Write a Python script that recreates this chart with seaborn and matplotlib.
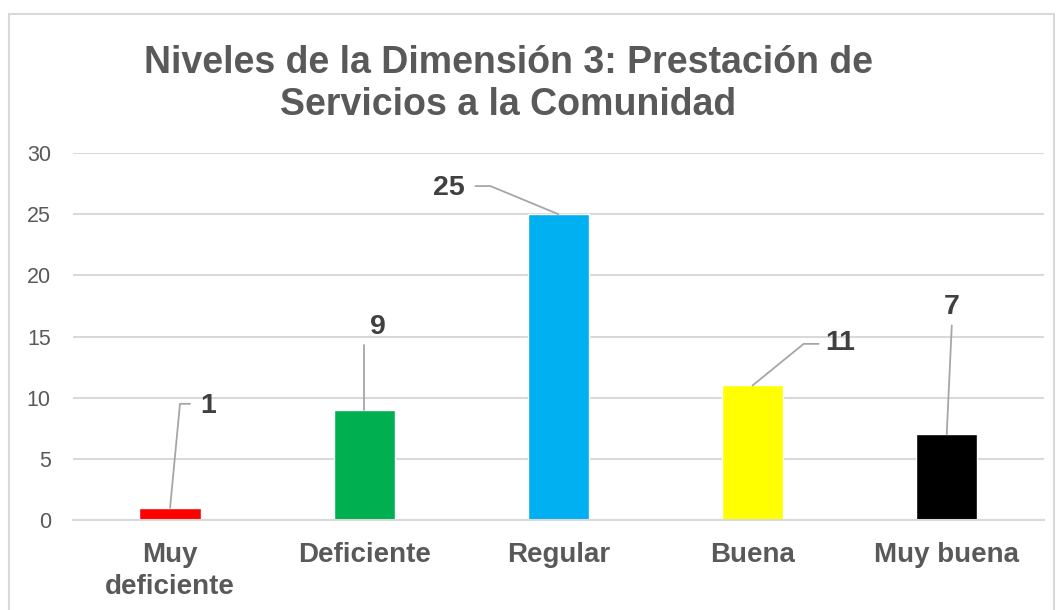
import matplotlib
matplotlib.use("Agg")
import matplotlib.pyplot as plt
from matplotlib.patches import Rectangle
import seaborn as sns

# Data
categorias = ["Muy\ndeficiente", "Deficiente", "Regular", "Buena", "Muy buena"]
valores = [1, 9, 25, 11, 7]
colores = ["#FF0000", "#00B050", "#00B0F0", "#FFFF00", "#000000"]

# Label placement (offsets from bar top, in data units) and leader elbows
label_dx = [0.196, 0.072, -0.566, 0.453, 0.026]
label_y = [9.3, 15.75, 27.15, 14.45, 17.45]
leaders = [
    [(0.051, 9.5), (0.103, 9.5)],
    [(0.0, 14.3)],
    [(-0.35, 27.3), (-0.427, 27.3)],
    [(0.263, 14.4), (0.34, 14.4)],
    [(0.026, 15.9)],
]

sns.set_theme(style="white")
plt.rcParams["font.family"] = ["Liberation Sans", "DejaVu Sans"]

fig = plt.figure(figsize=(10.61, 6.10), dpi=100)
ax = fig.add_axes([0.0688, 0.1475, 0.915, 0.6016])

sns.barplot(x=categorias, y=valores, hue=categorias, palette=colores,
            legend=False, width=0.315, saturation=1, ax=ax)

ax.set_ylim(0, 30)
ax.set_xlim(-0.5, len(categorias) - 0.5)
ax.set_yticks(range(0, 31, 5))
ax.yaxis.grid(True, color="#d9d9d9", linewidth=1.5)
ax.set_axisbelow(True)
for s in ["top", "right", "left"]:
    ax.spines[s].set_visible(False)
ax.spines["bottom"].set_color("#d9d9d9")
ax.spines["bottom"].set_linewidth(1.5)
ax.set_xlabel("")
ax.set_ylabel("")
ax.tick_params(axis="y", length=0, pad=16, labelsize=15.5, labelcolor="#595959")
ax.tick_params(axis="x", length=0, pad=16, labelsize=20, labelcolor="#595959")
for t in ax.get_xticklabels():
    t.set_fontweight("bold")
    t.set_linespacing(1.3)

# Data labels with leader lines
for i, v in enumerate(valores):
    xs = [i] + [i + dx for dx, _ in leaders[i]]
    ys = [v] + [y for _, y in leaders[i]]
    ax.plot(xs, ys, color="#a6a6a6", linewidth=1.3, zorder=3)
    ax.text(i + label_dx[i], label_y[i], str(v), ha="center", va="center",
            fontsize=20.5, fontweight="bold", color="#404040")

fig.text(0.479, 0.862, "Niveles de la Dimensión 3: Prestación de\nServicios a la Comunidad",
         ha="center", va="center", fontsize=27, fontweight="bold", color="#595959",
         linespacing=1.2)

# Outer chart border
fig.patches.append(Rectangle((9 / 1061, -0.05), 1045 / 1061, 0.05 + (610 - 14) / 610,
                             transform=fig.transFigure, fill=False,
                             edgecolor="#d9d9d9", linewidth=1.5))

fig.savefig("out.png", dpi=100)
